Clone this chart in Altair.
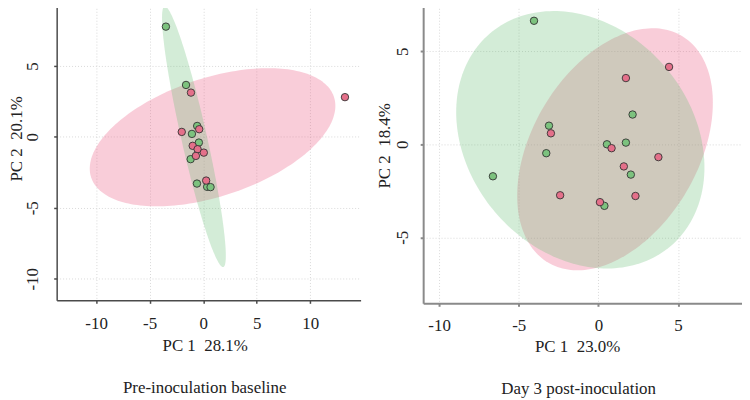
import altair as alt
import numpy as np
import pandas as pd

# ---- data (PC scores) ----
pre_green_x = [-3.48, -1.60, -0.56, -1.05, -0.40, -1.17, -0.58, 0.37, 0.69]
pre_green_y = [7.77, 3.66, 0.77, 0.21, -0.40, -1.57, -3.29, -3.52, -3.54]
pre_red_x = [13.24, -1.14, -0.37, -2.00, -0.98, -0.52, 0.06, -0.68, 0.28]
pre_red_y = [2.80, 3.12, 0.54, 0.35, -0.63, -0.87, -1.11, -1.34, -3.08]

post_green_x = [-4.04, -3.10, -3.27, -6.62, 0.54, 1.73, 2.15, 2.04, 0.38]
post_green_y = [6.64, 1.00, -0.48, -1.72, 0.00, 0.09, 1.60, -1.63, -3.31]
post_red_x = [4.44, 1.73, -2.98, 0.83, 3.77, 1.60, -2.40, 2.33, 0.10]
post_red_y = [4.16, 3.56, 0.59, -0.21, -0.69, -1.19, -2.74, -2.78, -3.11]

x_ticks_pre = [-10, -5, 0, 5, 10]
y_ticks_pre = [-10, -5, 0, 5]
x_ticks_post = [-10, -5, 0, 5]
y_ticks_post = [-5, 0, 5]

FONT = "Liberation Serif"
RED_PT = "#E4708A"
GREEN_PT = "#7CC27E"
RED_FILL = "#EC5A80"
GREEN_FILL = "#6CC07A"


def ellipse_df(xs, ys, n=200):
    """95% normal data ellipse (chi-square, 2 df) from the group's scores."""
    X = np.column_stack([xs, ys])
    mu = X.mean(axis=0)
    S = np.cov(X.T)
    L = np.linalg.cholesky(S)
    r = np.sqrt(5.991)
    t = np.linspace(0, 2 * np.pi, n + 1)
    circ = np.column_stack([np.cos(t), np.sin(t)])
    pts = mu + r * circ @ L.T
    return pd.DataFrame({"x": pts[:, 0], "y": pts[:, 1], "i": np.arange(n + 1)})


def panel(gx, gy, rx, ry, xdom, ydom, xticks, yticks, xtitle, ytitle, subtitle,
          w, h, axcol, axw, lab_pad_y, lab_pad_x, title_x_y, title_y_x,
          title_x_pos, title_y_pos, sub_dx, sub_offset):
    xscale = alt.Scale(domain=xdom, nice=False, zero=False)
    yscale = alt.Scale(domain=ydom, nice=False, zero=False)
    common = dict(
        grid=True, gridColor="#D9D9D9", gridDash=[1, 2], gridWidth=1,
        domainColor=axcol, domainWidth=axw, tickColor=axcol, tickWidth=axw,
        tickSize=3, labelFont=FONT, labelFontSize=17, labelColor="#222222",
        titleFont=FONT, titleFontSize=17, titleFontWeight="normal",
        titleColor="#222222", labelBaseline="alphabetic",
        titleBaseline="alphabetic", labelExpr="'' + datum.value",
    )
    xaxis = alt.Axis(values=xticks, title=xtitle, labelPadding=lab_pad_x,
                     titleY=title_x_y, titleX=title_x_pos, labelFlush=False,
                     **common)
    yaxis = alt.Axis(values=yticks, title=ytitle, labelPadding=lab_pad_y,
                     labelAngle=-90, labelAlign="center", titleAngle=-90,
                     titleX=title_y_x, titleY=title_y_pos, labelFlush=False,
                     **common)
    X = alt.X("x:Q", scale=xscale, axis=xaxis)
    Y = alt.Y("y:Q", scale=yscale, axis=yaxis)

    e_red = alt.Chart(ellipse_df(rx, ry)).mark_line(
        fill=RED_FILL, fillOpacity=0.3, strokeOpacity=0, strokeWidth=0
    ).encode(x=X, y=Y, order="i:Q")
    e_green = alt.Chart(ellipse_df(gx, gy)).mark_line(
        fill=GREEN_FILL, fillOpacity=0.3, strokeOpacity=0, strokeWidth=0
    ).encode(x=X, y=Y, order="i:Q")

    pts = pd.concat([
        pd.DataFrame({"x": gx, "y": gy, "group": "green"}),
        pd.DataFrame({"x": rx, "y": ry, "group": "red"}),
    ], ignore_index=True)
    points = alt.Chart(pts).mark_circle(
        size=56, opacity=1, stroke="#333333", strokeWidth=0.9
    ).encode(
        x=X, y=Y,
        color=alt.Color("group:N", scale=alt.Scale(domain=["green", "red"],
                                                   range=[GREEN_PT, RED_PT]),
                        legend=None),
    )
    return alt.layer(e_red, e_green, points).properties(
        width=w, height=h,
        title=alt.TitleParams(subtitle, orient="bottom", font=FONT,
                              fontSize=17, fontWeight="normal",
                              color="#222222", dx=sub_dx, offset=sub_offset),
    )


left = panel(pre_green_x, pre_green_y, pre_red_x, pre_red_y,
             [-13.68, 14.70], [-11.52, 9.48], x_ticks_pre, y_ticks_pre,
             "PC 1\u00a0\u00a028.1%", "PC 2\u00a0\u00a020.1%",
             "Pre-inoculation baseline",
             306, 300, "#4A4A4A", 1.5, 16, 25, 51, -35, 149, 137, -4, 26)

right = panel(post_green_x, post_green_y, post_red_x, post_red_y,
              [-11.0, 9.02], [-8.55, 7.63], x_ticks_post, y_ticks_post,
              "PC 1\u00a0\u00a023.0%", "PC 2\u00a0\u00a018.4%",
              "Day 3 post-inoculation",
              321, 303, "#8A8A8A", 2, 13, 24, 49, -34, 155, 144, -4, 26)

chart = alt.hconcat(left, right, spacing=15).properties(
    padding={"left": 0, "top": -7, "right": 0, "bottom": 0},
    background="white",
).configure_view(stroke=None)

chart.save("out.html", embed_options={"renderer": "svg", "actions": False})
